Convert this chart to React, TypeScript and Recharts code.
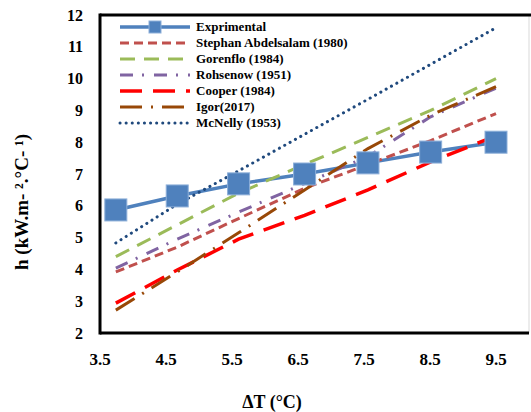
import React from "react";
import { LineChart, Line, XAxis, YAxis } from "recharts";

// ΔT (°C) at which each h value was read
const dT = [3.74, 4.67, 5.6, 6.6, 7.56, 8.51, 9.5];

// h (kW.m-2.°C-1)
const exprimental = [5.87, 6.31, 6.69, 7.0, 7.35, 7.69, 8.0];
const stephan = [3.92, 4.7, 5.6, 6.55, 7.3, 8.05, 8.9];
const gorenflo = [4.4, 5.4, 6.4, 7.3, 8.15, 9.0, 10.0];
const rohsenow = [4.04, 4.95, 5.8, 6.7, 7.55, 8.8, 9.7];
const cooper = [2.94, 3.98, 4.95, 5.7, 6.5, 7.38, 8.2];
const igor = [2.72, 3.92, 5.15, 6.5, 7.8, 8.85, 9.75];
const mcnelly = [4.83, 6.05, 7.1, 8.25, 9.35, 10.45, 11.6];

const xTicks = [3.5, 4.5, 5.5, 6.5, 7.5, 8.5, 9.5];
const yTicks = [2, 3, 4, 5, 6, 7, 8, 9, 10, 11, 12];

const data = dT.map((x, i) => ({
  dT: x,
  exp: exprimental[i],
  stephan: stephan[i],
  gorenflo: gorenflo[i],
  rohsenow: rohsenow[i],
  cooper: cooper[i],
  igor: igor[i],
  mcnelly: mcnelly[i],
}));

const series = [
  { key: "exp", name: "Exprimental", color: "#4F81BD", width: 3.5, dash: undefined, cap: "butt" },
  { key: "stephan", name: "Stephan Abdelsalam (1980)", color: "#C0504D", width: 3, dash: "9 5", cap: "butt" },
  { key: "gorenflo", name: "Gorenflo (1984)", color: "#9BBB59", width: 3, dash: "15 9", cap: "butt" },
  { key: "rohsenow", name: "Rohsenow (1951)", color: "#8064A2", width: 3, dash: "13 9 2 10", cap: "butt" },
  { key: "cooper", name: "Cooper (1984)", color: "#FF0000", width: 3.5, dash: "22 11", cap: "butt" },
  { key: "igor", name: "Igor(2017)", color: "#984807", width: 3, dash: "22 9 2 9", cap: "butt" },
  { key: "mcnelly", name: "McNelly (1953)", color: "#1F497D", width: 3, dash: "0.1 6", cap: "round" },
];

const FONT = "'Liberation Serif', 'Times New Roman', serif";

// chart box
const W = 531;
const H = 412;
const MARGIN = { top: 15, right: 2, bottom: 49, left: 0 };
const Y_AXIS_W = 100;
const X_AXIS_H = 30;
const PLOT = {
  left: MARGIN.left + Y_AXIS_W,
  top: MARGIN.top,
  right: W - MARGIN.right,
  bottom: H - MARGIN.bottom - X_AXIS_H,
};

const renderSquare = (props: any) => {
  const { cx, cy, index } = props;
  return (
    <rect
      key={"sq" + index}
      x={cx - 11}
      y={cy - 11}
      width={22}
      height={22}
      fill="#4F81BD"
      stroke="#8DAFD9"
      strokeWidth={1}
    />
  );
};

function LegendBox() {
  return (
    <div
      style={{
        position: "absolute",
        left: 116,
        top: 19,
        fontFamily: FONT,
        fontWeight: "bold",
        fontSize: 13,
        color: "#000",
      }}
    >
      {series.map((s) => (
        <div key={s.key} style={{ display: "flex", alignItems: "center", height: 16 }}>
          <svg width={80} height={16}>
            <line
              x1={4}
              x2={74}
              y1={8}
              y2={8}
              stroke={s.color}
              strokeWidth={s.width}
              strokeDasharray={s.dash}
              strokeLinecap={s.cap as any}
            />
            {s.key === "exp" && (
              <rect x={33} y={2} width={12} height={12} fill="#4F81BD" stroke="#8DAFD9" strokeWidth={1} />
            )}
          </svg>
          <span style={{ whiteSpace: "nowrap" }}>{s.name}</span>
        </div>
      ))}
    </div>
  );
}

// plot frame: black on left, bottom and top, light grey on the right
function Frame() {
  return (
    <svg
      width={W}
      height={H}
      style={{ position: "absolute", left: 0, top: 0, pointerEvents: "none" }}
    >
      <line x1={PLOT.right} x2={PLOT.right} y1={PLOT.top} y2={PLOT.bottom} stroke="#D9D9D9" strokeWidth={1} />
      <line x1={PLOT.left} x2={W} y1={PLOT.top} y2={PLOT.top} stroke="#000" strokeWidth={3} />
      <line x1={PLOT.left} x2={PLOT.right} y1={PLOT.bottom} y2={PLOT.bottom} stroke="#000" strokeWidth={3} />
      <line x1={PLOT.left} x2={PLOT.left} y1={PLOT.top - 1.5} y2={PLOT.bottom + 1.5} stroke="#000" strokeWidth={3} />
    </svg>
  );
}

export default function App() {
  return (
    <div style={{ position: "absolute", left: 0, top: 0, width: W, height: H, background: "#fff" }}>
      <LineChart width={W} height={H} data={data} margin={MARGIN}>
        <XAxis
          dataKey="dT"
          type="number"
          domain={[3.5, 10]}
          ticks={xTicks}
          allowDataOverflow
          height={X_AXIS_H}
          axisLine={false}
          tickLine={false}
          tickMargin={14}
          tick={{ fill: "#000", fontFamily: FONT, fontWeight: "bold", fontSize: 17 }}
          label={{
            content: () => (
              <text
                x={272}
                y={408}
                textAnchor="middle"
                fontFamily={FONT}
                fontWeight="bold"
                fontSize={18}
                fill="#000"
              >
                ΔT (°C)
              </text>
            ),
          }}
        />
        <YAxis
          type="number"
          domain={[2, 12]}
          ticks={yTicks}
          width={Y_AXIS_W}
          axisLine={false}
          tickLine={false}
          tickMargin={11}
          tick={{ fill: "#000", fontFamily: FONT, fontWeight: "bold", fontSize: 16 }}
          label={{
            content: () => (
              <text
                x={28}
                y={202}
                textAnchor="middle"
                transform="rotate(-90 28 202)"
                fontFamily={FONT}
                fontWeight="bold"
                fontSize={19}
                fill="#000"
              >
                h (kW.m- ².°C- ¹)
              </text>
            ),
          }}
        />
        {series.map((s) => (
          <Line
            key={s.key}
            dataKey={s.key}
            name={s.name}
            type="linear"
            stroke={s.color}
            strokeWidth={s.width}
            strokeDasharray={s.dash}
            strokeLinecap={s.cap as any}
            dot={s.key === "exp" ? renderSquare : false}
            activeDot={false}
            isAnimationActive={false}
          />
        ))}
      </LineChart>
      <Frame />
      <LegendBox />
    </div>
  );
}
